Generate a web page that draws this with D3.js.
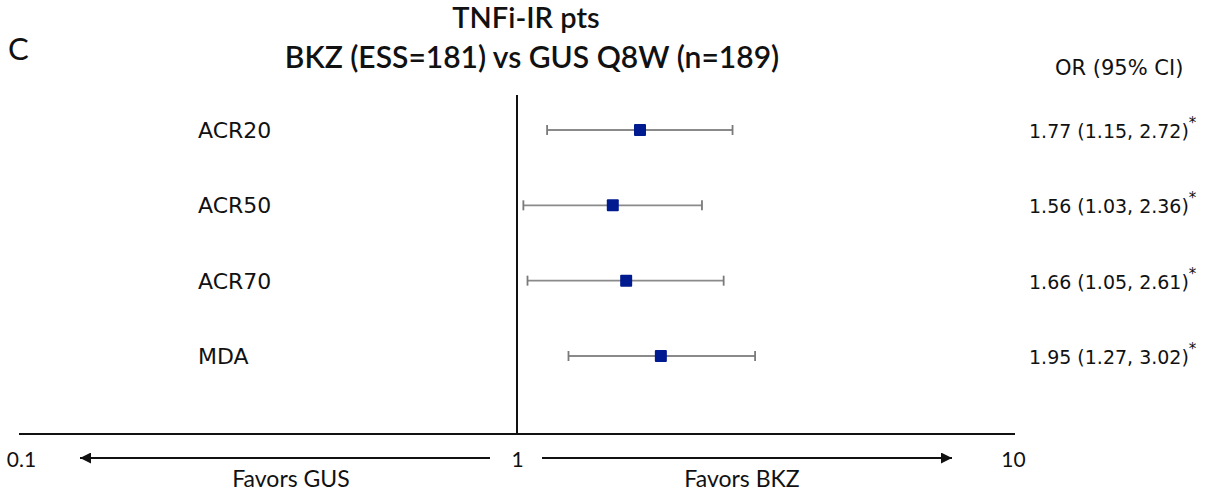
<!DOCTYPE html>
<html>
<head>
<meta charset="utf-8">
<script src="https://cdn.jsdelivr.net/npm/d3@7"></script>
<style>
  html, body { margin: 0; padding: 0; background: #fff; }
  svg { display: block; }
  text { font-family: Lato, "Open Sans", sans-serif; fill: #111; }
  .dv { font-family: "DejaVu Sans", Verdana, sans-serif; }
</style>
</head>
<body>
<svg id="chart" width="1216" height="492"></svg>
<script>
const outcomes = ["ACR20", "ACR50", "ACR70", "MDA"];
const orValues = [1.77, 1.56, 1.66, 1.95];
const ciLower = [1.15, 1.03, 1.05, 1.27];
const ciUpper = [2.72, 2.36, 2.61, 3.02];
const significant = [true, true, true, true];
const tickValues = [0.1, 1, 10];
const tickLabels = ["0.1", "1", "10"];

const svg = d3.select("#chart");
const x = d3.scaleLog().domain([0.1, 10]).range([21, 1013]);
const y = d3.scalePoint().domain(outcomes).range([130, 356]);
const axisY = 434;

// Titles
svg.append("text").attr("x", 8).attr("y", 60).attr("font-size", 31).attr("font-weight", 400).text("C");
svg.append("text").attr("x", 526).attr("y", 28).attr("text-anchor", "middle")
  .attr("font-size", 29).attr("font-weight", 600).text("TNFi-IR pts");
svg.append("text").attr("x", 532).attr("y", 68).attr("text-anchor", "middle")
  .attr("font-size", 30).attr("font-weight", 600).text("BKZ (ESS=181) vs GUS Q8W (n=189)");
svg.append("text").attr("class", "dv").attr("x", 1055).attr("y", 75)
  .attr("font-size", 21).text("OR (95% CI)");

// Axis
const axis = d3.axisBottom(x).tickValues(tickValues)
  .tickFormat((d, i) => tickLabels[i]).tickSize(0).tickPadding(18);
const gAxis = svg.append("g").attr("transform", `translate(0,${axisY})`).call(axis);
gAxis.select(".domain").attr("stroke", "#111").attr("stroke-width", 2)
  .attr("d", `M${x(0.1) - 2},0H${x(10) + 2}`);
gAxis.selectAll(".tick text").attr("font-size", 21).attr("fill", "#222")
  .style("font-family", "Lato, 'Open Sans', sans-serif");

// Reference line
svg.append("line").attr("x1", x(1)).attr("x2", x(1)).attr("y1", 95).attr("y2", axisY)
  .attr("stroke", "#111").attr("stroke-width", 2);

// Arrows
const defs = svg.append("defs");
defs.append("marker").attr("id", "arrow").attr("viewBox", "0 0 10 10")
  .attr("refX", 10).attr("refY", 5).attr("markerWidth", 7.5).attr("markerHeight", 5.5)
  .attr("markerUnits", "strokeWidth").attr("orient", "auto")
  .append("path").attr("d", "M0,0L10,5L0,10Z").attr("fill", "#111");
const arrowY = 458;
svg.append("line").attr("x1", 490).attr("x2", 80).attr("y1", arrowY).attr("y2", arrowY)
  .attr("stroke", "#111").attr("stroke-width", 2).attr("marker-end", "url(#arrow)");
svg.append("line").attr("x1", 542).attr("x2", 952).attr("y1", arrowY).attr("y2", arrowY)
  .attr("stroke", "#111").attr("stroke-width", 2).attr("marker-end", "url(#arrow)");
svg.append("text").attr("x", 291).attr("y", 487).attr("text-anchor", "middle")
  .attr("font-size", 23).text("Favors GUS");
svg.append("text").attr("x", 742).attr("y", 487).attr("text-anchor", "middle")
  .attr("font-size", 23).text("Favors BKZ");

// Rows
const rows = svg.append("g").selectAll("g").data(outcomes).join("g");
rows.append("text").attr("class", "dv").attr("x", 198).attr("y", d => y(d) + 8)
  .attr("font-size", 22).text(d => d);
rows.append("line").attr("x1", (d, i) => x(ciLower[i])).attr("x2", (d, i) => x(ciUpper[i]))
  .attr("y1", d => y(d)).attr("y2", d => y(d)).attr("stroke", "#8a8a8a").attr("stroke-width", 1.8);
rows.append("line").attr("x1", (d, i) => x(ciLower[i])).attr("x2", (d, i) => x(ciLower[i]))
  .attr("y1", d => y(d) - 5).attr("y2", d => y(d) + 5).attr("stroke", "#7a7a7a").attr("stroke-width", 1.8);
rows.append("line").attr("x1", (d, i) => x(ciUpper[i])).attr("x2", (d, i) => x(ciUpper[i]))
  .attr("y1", d => y(d) - 5).attr("y2", d => y(d) + 5).attr("stroke", "#7a7a7a").attr("stroke-width", 1.8);
rows.append("rect").attr("x", (d, i) => x(orValues[i]) - 6).attr("y", d => y(d) - 6)
  .attr("width", 12).attr("height", 12).attr("rx", 1).attr("fill", "#001a8f");
const lbl = rows.append("text").attr("class", "dv").attr("x", 1029).attr("y", d => y(d) + 8).attr("font-size", 19);
lbl.append("tspan").text((d, i) => `${orValues[i].toFixed(2)} (${ciLower[i].toFixed(2)}, ${ciUpper[i].toFixed(2)})`);
lbl.append("tspan").attr("dy", -10).attr("font-size", 15)
  .text((d, i) => significant[i] ? "*" : "");
</script>
</body>
</html>
